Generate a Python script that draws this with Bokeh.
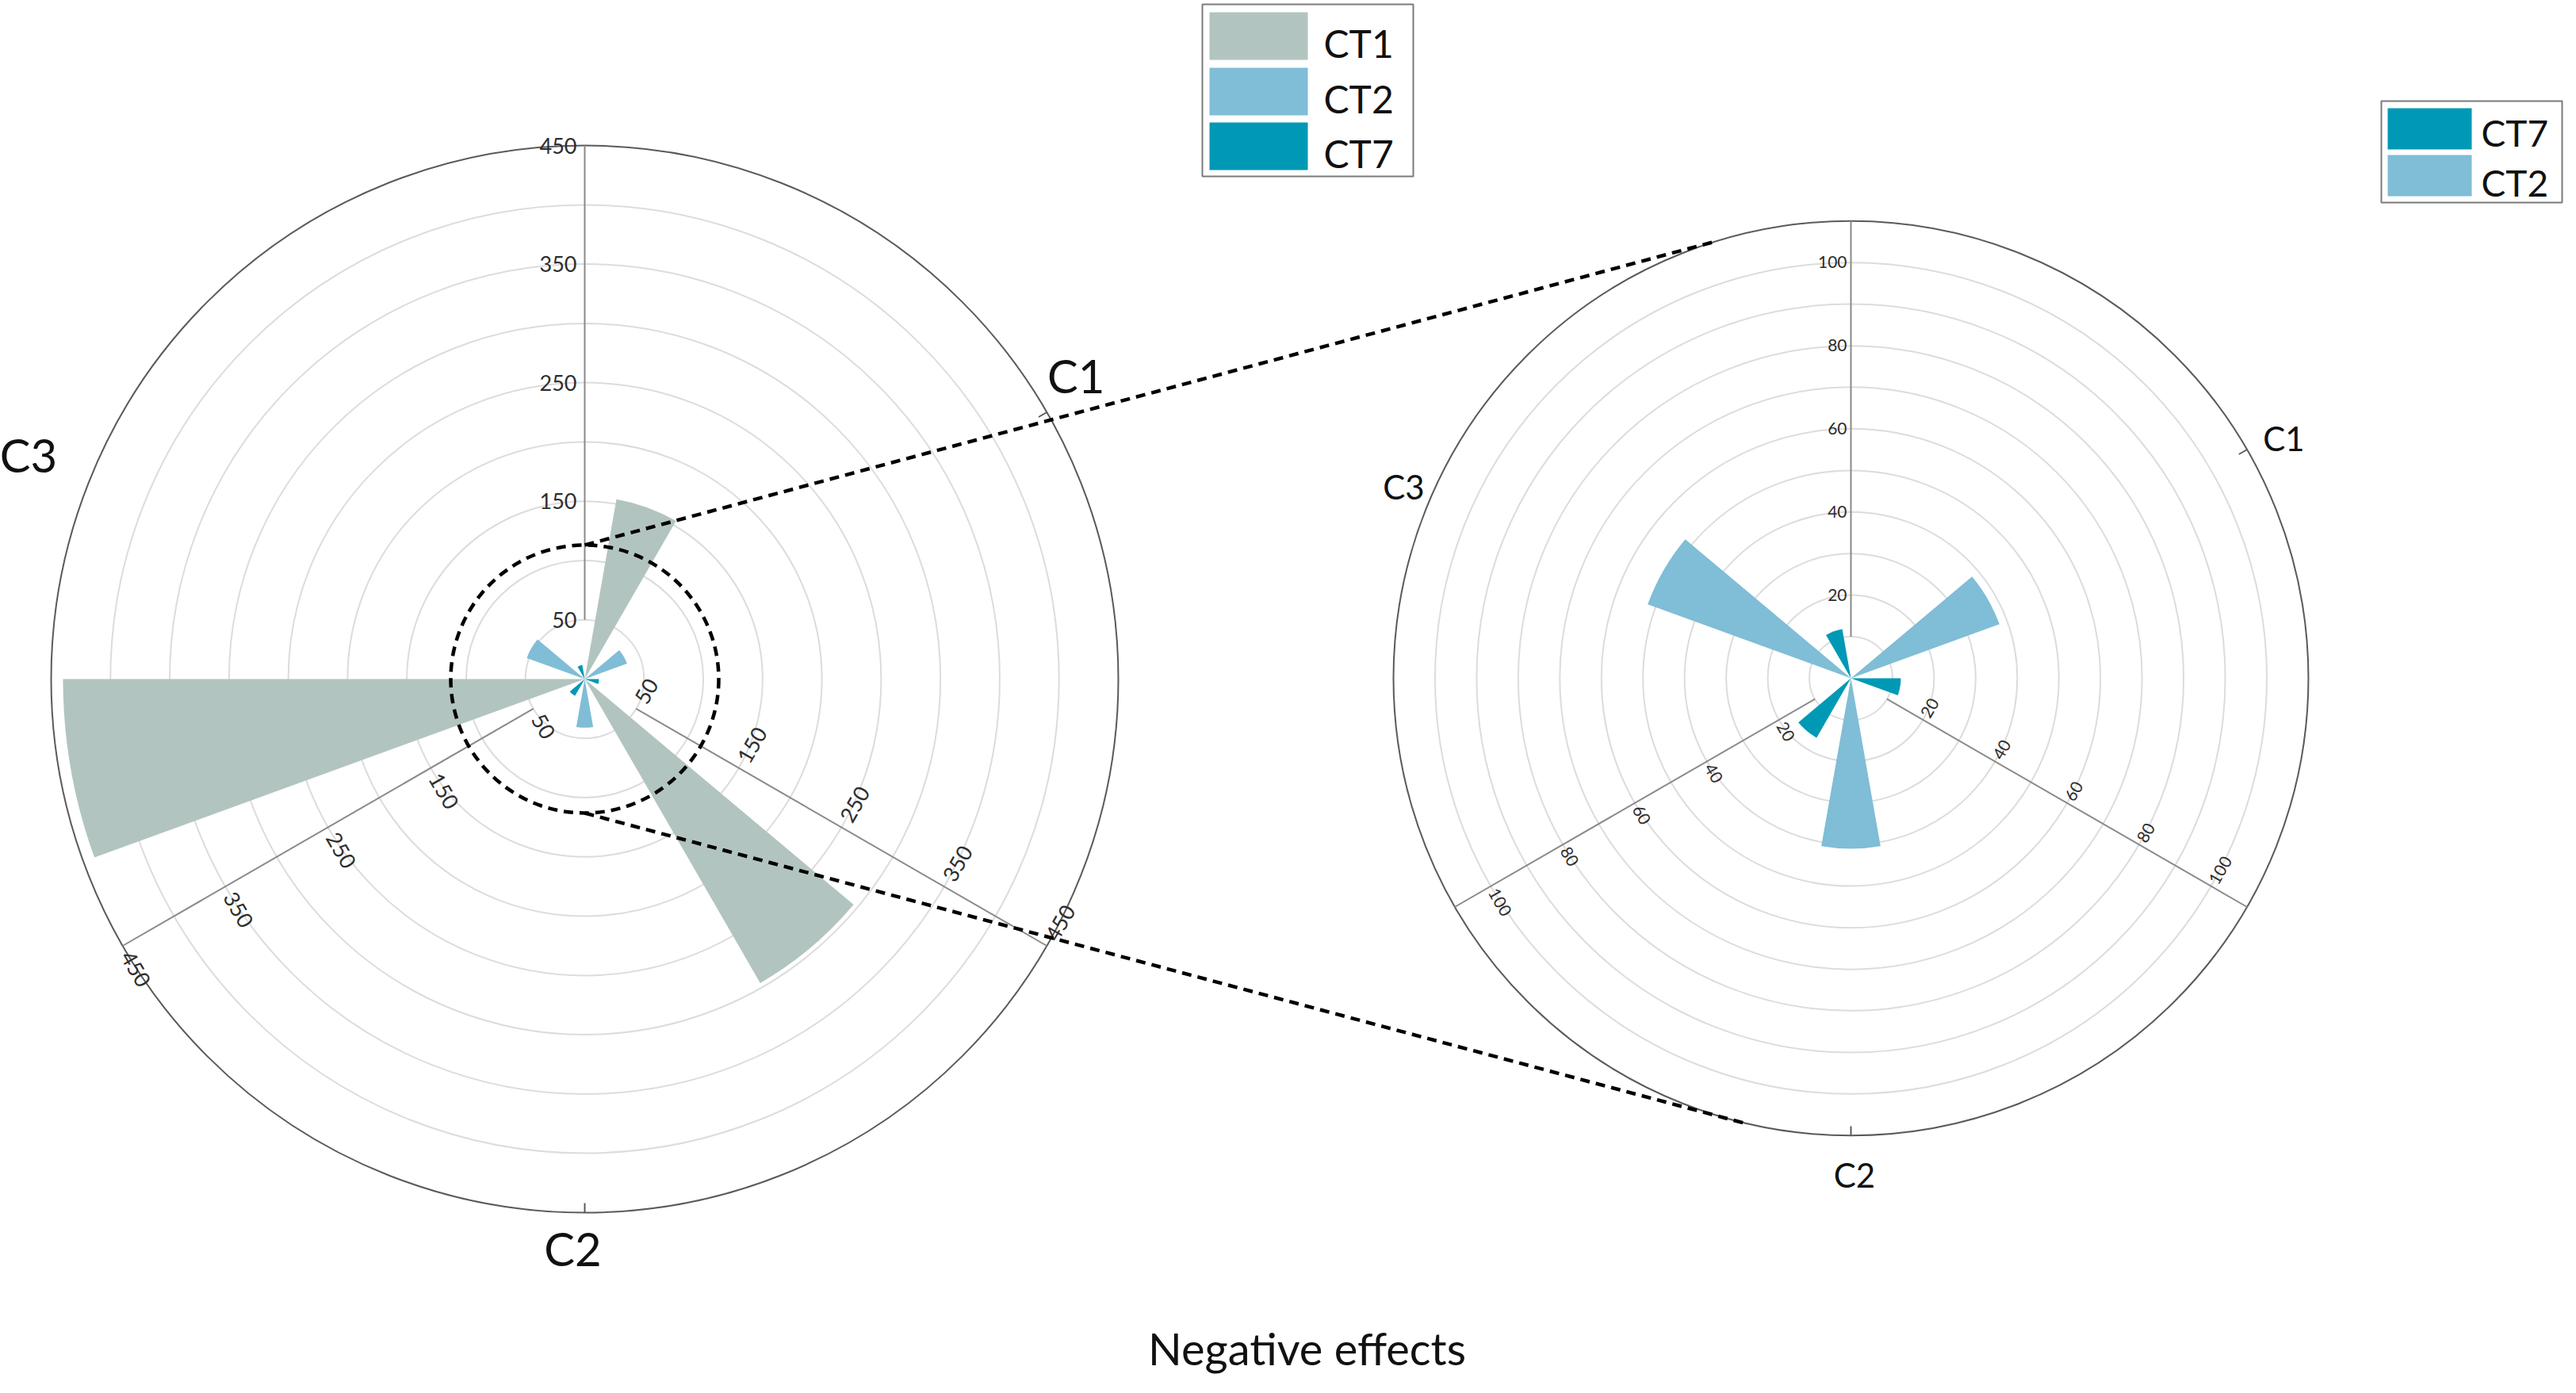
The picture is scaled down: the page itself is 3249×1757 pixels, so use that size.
import math
from bokeh.plotting import figure
from bokeh.models import Range1d, ColumnDataSource
from bokeh.embed import file_html
from bokeh.resources import INLINE
from bokeh.core.properties import value

# ---------------- data ----------------
categories = ["C1", "C2", "C3"]
series = ["CT1", "CT2", "CT7"]
ct1 = [154, 296, 440]
ct2 = [38, 41, 52]
ct7 = [12, 16.5, 12]
colors = {"CT1": "#b2c4bf", "CT2": "#80bdd6", "CT7": "#0099b5"}

left_ticks = [50, 150, 250, 350, 450]
right_ticks = [20, 40, 60, 80, 100]
left_rings = [50, 100, 150, 200, 250, 300, 350, 400]
right_rings = [10, 20, 30, 40, 50, 60, 70, 80, 90, 100]
left_max = 450
right_max = 110
zoom_radius = 113
title_text = "Negative effects"
left_legend = ["CT1", "CT2", "CT7"]
right_legend = ["CT7", "CT2"]

# ---------------- layout (reference pixel frame, y measured downward) ----------------
W, H = 3233, 1741
X0, Y0 = 8, 8
LC = (745, 864); LR = 673
RC = (2342, 863); RR = 577
sL = LR / left_max
sR = RR / right_max
FONT = value("Lato")


def fy(y):
    return -y


p = figure(width=W, height=H, output_backend="svg", toolbar_location=None,
           x_range=Range1d(X0, X0 + W), y_range=Range1d(-(Y0 + H), -Y0),
           x_axis_type=None, y_axis_type=None, min_border=0,
           outline_line_color=None, background_fill_color="white",
           border_fill_color="white")
p.grid.visible = False
p.extra_x_ranges = {
    "L": Range1d((X0 - LC[0]) / sL, (X0 + W - LC[0]) / sL),
    "R": Range1d((X0 - RC[0]) / sR, (X0 + W - RC[0]) / sR),
}
p.extra_y_ranges = {
    "L": Range1d((LC[1] - (Y0 + H)) / sL, (LC[1] - Y0) / sL),
    "R": Range1d((RC[1] - (Y0 + H)) / sR, (RC[1] - Y0) / sR),
}

values = {"CT1": ct1, "CT2": ct2, "CT7": ct7}


def slot_angle(i, j):
    return 90 - 120 * i - 40 * j - 20


def draw_chart(rn, rmax, rings, ticks, shown, scale, tick_fs, tick_off_px,
               r0, lab_ang, lab_r, lab_fs, tick_cats):
    kw = dict(x_range_name=rn, y_range_name=rn)
    # grid rings
    p.circle(x=[0] * len(rings), y=[0] * len(rings), radius=rings,
             fill_color=None, line_color="#dcdcdc", line_width=2, **kw)
    # bars
    xs, ys, rads, sa, ea, cols = [], [], [], [], [], []
    for j, s in enumerate(series):
        if s not in shown:
            continue
        for i, c in enumerate(categories):
            a = slot_angle(i, j)
            xs.append(0); ys.append(0)
            rads.append(values[s][i])
            sa.append(math.radians(a - 10)); ea.append(math.radians(a + 10))
            cols.append(colors[s])
    src = ColumnDataSource(dict(x=xs, y=ys, r=rads, sa=sa, ea=ea, c=cols))
    p.wedge(x="x", y="y", radius="r", start_angle="sa", end_angle="ea",
            fill_color="c", line_color=None, source=src, **kw)
    # outer circle
    p.circle(x=[0], y=[0], radius=[rmax], fill_color=None,
             line_color="#5a5a5a", line_width=2, **kw)
    # radial axis lines
    axes = [90, -30, 210]
    p.segment(x0=[r0 * math.cos(math.radians(a)) for a in axes],
              y0=[r0 * math.sin(math.radians(a)) for a in axes],
              x1=[rmax * math.cos(math.radians(a)) for a in axes],
              y1=[rmax * math.sin(math.radians(a)) for a in axes],
              line_color="#8a8a8a", line_width=2, **kw)
    # category tick marks
    tk = 12 / scale
    cang = tick_cats
    p.segment(x0=[(rmax - tk) * math.cos(math.radians(a)) for a in cang],
              y0=[(rmax - tk) * math.sin(math.radians(a)) for a in cang],
              x1=[rmax * math.cos(math.radians(a)) for a in cang],
              y1=[rmax * math.sin(math.radians(a)) for a in cang],
              line_color="#5a5a5a", line_width=2, **kw)
    # tick labels
    off = tick_off_px / scale
    groups = {"left": dict(x=[], y=[], t=[], ang=[]),
              "right": dict(x=[], y=[], t=[], ang=[])}
    for a in axes:
        n = a + 90
        rot = ((a - 90 + 90) % 180) - 90
        align = "left" if math.cos(math.radians(rot - n)) > 0 else "right"
        g = groups[align]
        for t in ticks:
            g["x"].append(t * math.cos(math.radians(a)) + off * math.cos(math.radians(n)))
            g["y"].append(t * math.sin(math.radians(a)) + off * math.sin(math.radians(n)))
            g["t"].append(str(t))
            g["ang"].append(math.radians(rot))
    for align, g in groups.items():
        p.text(x=g["x"], y=g["y"], text=g["t"], angle=g["ang"],
               text_align=align, text_baseline="middle",
               text_font=FONT, text_font_size=tick_fs, text_color="#2e2e2e", **kw)
    # category labels
    p.text(x=[r * math.cos(math.radians(a)) for a, r in zip(lab_ang, lab_r)],
           y=[r * math.sin(math.radians(a)) for a, r in zip(lab_ang, lab_r)],
           text=categories, text_align="center", text_baseline="middle",
           text_font=FONT, text_font_size=lab_fs, text_color="#111111", **kw)


draw_chart("L", left_max, left_rings, left_ticks, ["CT1", "CT2", "CT7"], sL,
           "27px", 10, 50, [31.7, 268.8, 158.0], [487, 480, 506], "58px", [30, 270])
draw_chart("R", right_max, right_rings, right_ticks, ["CT2", "CT7"], sR,
           "21px", 5, 10, [29.0, 270.4, 156.8], [119, 119.5, 117], "42px", [30, 270])

# zoom circle on the left chart
p.circle(x=[0], y=[0], radius=[zoom_radius], fill_color=None, line_color="black",
         line_width=4.5, line_dash="12 8", x_range_name="L", y_range_name="L")

# connecting dashed lines (reference pixel frame)
zr_px = zoom_radius * sL
a_up, a_dn = math.radians(107.5), math.radians(256.5)
p.segment(x0=[LC[0], LC[0]], y0=[fy(LC[1] - zr_px), fy(LC[1] + zr_px)],
          x1=[RC[0] + RR * math.cos(a_up), RC[0] + RR * math.cos(a_dn)],
          y1=[fy(RC[1] - RR * math.sin(a_up)), fy(RC[1] - RR * math.sin(a_dn))],
          line_color="black", line_width=4.5, line_dash="12 8")


# legends
def legend(box, sw_x, rows, text_x, centers, items, fs):
    p.quad(left=[box[0]], right=[box[1]], top=[fy(box[2])], bottom=[fy(box[3])],
           fill_color="white", line_color="#7a7a7a", line_width=2)
    p.quad(left=[sw_x[0]] * len(items), right=[sw_x[1]] * len(items),
           top=[fy(r[0]) for r in rows], bottom=[fy(r[1]) for r in rows],
           fill_color=[colors[s] for s in items], line_color=None)
    p.text(x=[text_x] * len(items), y=[fy(c) for c in centers], text=items,
           text_align="left", text_baseline="middle",
           text_font=FONT, text_font_size=fs, text_color="#111111")


legend((1524, 1790, 13, 230), (1533, 1657), [(23, 83), (93, 153), (162, 222)],
       1677, [62, 132, 201], left_legend, "48px")
legend((3011, 3239, 135, 263), (3019, 3125), [(144, 196), (203, 255)],
       3137, [175, 238], right_legend, "46px")

# title
p.text(x=[1656], y=[fy(1708)], text=[title_text], text_align="center",
       text_baseline="middle", text_font=FONT, text_font_size="56px",
       text_color="#111111")

open("out.html", "w").write(file_html(p, INLINE))
